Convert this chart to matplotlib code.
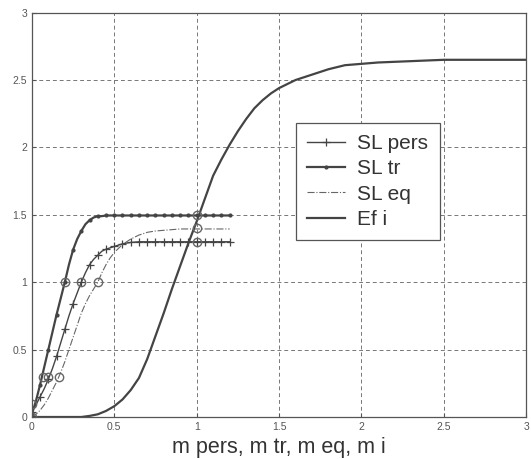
import matplotlib
matplotlib.use("Agg")
import matplotlib.pyplot as plt

# SL curves: read every 0.025 on the rising part, every 0.05 on the plateau
m_sl = [0.0, 0.025, 0.05, 0.075, 0.1, 0.125, 0.15, 0.175, 0.2, 0.225, 0.25, 0.275, 0.3,
        0.325, 0.35, 0.375, 0.4, 0.425, 0.45, 0.475, 0.5, 0.525, 0.55, 0.575, 0.6,
        0.65, 0.7, 0.75, 0.8, 0.85, 0.9, 0.95, 1.0, 1.05, 1.1, 1.15, 1.2]
sl_pers = [0.04, 0.09, 0.15, 0.21, 0.28, 0.36, 0.45, 0.55, 0.65, 0.75, 0.84, 0.92, 1.0,
           1.07, 1.13, 1.17, 1.2, 1.23, 1.245, 1.255, 1.265, 1.275, 1.285, 1.29, 1.295,
           1.3, 1.3, 1.3, 1.3, 1.3, 1.3, 1.3, 1.3, 1.3, 1.3, 1.3, 1.3]
sl_tr = [0.02, 0.12, 0.24, 0.37, 0.5, 0.63, 0.76, 0.88, 1.0, 1.13, 1.24, 1.32, 1.38,
         1.43, 1.46, 1.48, 1.49, 1.49, 1.495, 1.495, 1.495, 1.495, 1.495, 1.495, 1.495,
         1.495, 1.495, 1.495, 1.495, 1.495, 1.495, 1.495, 1.495, 1.495, 1.495, 1.495, 1.495]
sl_eq = [0.0, 0.02, 0.05, 0.09, 0.14, 0.2, 0.26, 0.33, 0.41, 0.5, 0.59, 0.68, 0.77,
         0.84, 0.9, 0.95, 1.0, 1.07, 1.13, 1.18, 1.22, 1.25, 1.28, 1.3, 1.32,
         1.35, 1.37, 1.38, 1.385, 1.39, 1.395, 1.395, 1.395, 1.395, 1.395, 1.395, 1.395]

m_i = [0.0, 0.2, 0.3, 0.35, 0.4, 0.45, 0.5, 0.55, 0.6, 0.65, 0.7, 0.75, 0.8, 0.85, 0.9,
       0.95, 1.0, 1.05, 1.1, 1.15, 1.2, 1.25, 1.3, 1.35, 1.4, 1.45, 1.5, 1.55, 1.6,
       1.7, 1.8, 1.9, 2.0, 2.1, 2.3, 2.5, 3.0]
ef_i = [0.0, 0.0, 0.0, 0.008, 0.02, 0.045, 0.08, 0.13, 0.2, 0.29, 0.43, 0.6, 0.77, 0.95,
        1.12, 1.29, 1.45, 1.62, 1.79, 1.91, 2.02, 2.12, 2.21, 2.29, 2.35, 2.4, 2.44, 2.47,
        2.5, 2.54, 2.58, 2.61, 2.62, 2.63, 2.64, 2.65, 2.65]

# highlighted points (open circles)
circ_x = [0.0, 0.0, 0.065, 0.095, 0.165, 0.2, 0.3, 0.4, 1.0, 1.0, 1.0]
circ_y = [0.0, 0.1, 0.3, 0.3, 0.3, 1.0, 1.0, 1.0, 1.5, 1.4, 1.3]

# markers only on the 0.05 grid
mark_idx = [i for i, x in enumerate(m_sl) if abs(x * 20 - round(x * 20)) < 1e-6]

ink = "#444444"

fig = plt.figure(figsize=(5.31, 4.59), dpi=100)
ax = fig.add_axes([0.060, 0.0915, 0.931, 0.881])

ax.plot(m_sl, sl_pers, color=ink, lw=1.0, marker="+", ms=6, mew=0.9,
        markevery=mark_idx, label="SL pers")
ax.plot(m_sl, sl_tr, color=ink, lw=1.6, marker=".", ms=4, markevery=mark_idx, label="SL tr")
ax.plot(m_sl, sl_eq, color="#666666", lw=0.8, ls="-.", label="SL eq")
ax.plot(m_i, ef_i, color=ink, lw=1.6, label="Ef i")
ax.plot(circ_x, circ_y, ls="none", marker="o", ms=6, mfc="none", mec="#666666", mew=1.0)

ticks = [0, 0.5, 1, 1.5, 2, 2.5, 3]
tick_labels = ["0", "0.5", "1", "1.5", "2", "2.5", "3"]
ax.set_xlim(0, 3)
ax.set_ylim(0, 3)
ax.set_xticks(ticks)
ax.set_xticklabels(tick_labels, family="Liberation Sans")
ax.set_yticks(ticks)
ax.set_yticklabels(tick_labels, family="Liberation Sans")
ax.tick_params(direction="in", length=3, labelsize=7.5, labelcolor="#555555", color="#555555")
ax.grid(True, ls=(0, (4, 3)), color="#777777", lw=0.7)
for s in ax.spines.values():
    s.set_color("#555555")
    s.set_linewidth(0.9)

ax.set_xlabel("m pers, m tr, m eq, m i", fontsize=15.5, family="Liberation Sans",
              color="#333333", labelpad=4)

leg = ax.legend(loc="upper left", bbox_to_anchor=(0.534, 0.728), borderaxespad=0,
                fancybox=False, framealpha=1, edgecolor="#555555", handlelength=1.8,
                prop={"family": "Liberation Sans", "size": 15},
                borderpad=0.55, labelspacing=0.3, handletextpad=0.6)
leg.get_frame().set_linewidth(0.9)
for t in leg.get_texts():
    t.set_color("#333333")

plt.savefig("out.png", dpi=100)
